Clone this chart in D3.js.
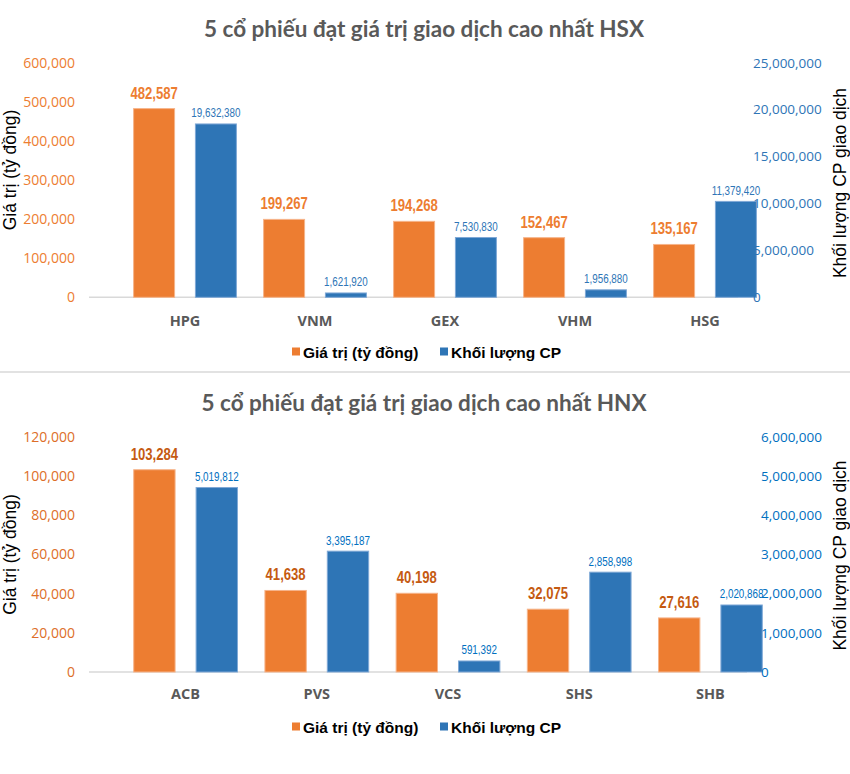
<!DOCTYPE html>
<html>
<head>
<meta charset="utf-8">
<script src="https://cdn.jsdelivr.net/npm/d3@7"></script>
<style>
  html, body { margin: 0; padding: 0; background: #fff; }
  svg { display: block; }
</style>
</head>
<body>
<svg id="chart" width="850" height="774"></svg>
<script>
// ---------- DATA ----------
const seriesNames = ["Giá trị (tỷ đồng)", "Khối lượng CP"];

const hsxTitle = "5 cổ phiếu đạt giá trị giao dịch cao nhất HSX";
const hsxCategories = ["HPG", "VNM", "GEX", "VHM", "HSG"];
const hsxValue = [482587, 199267, 194268, 152467, 135167];
const hsxVolume = [19632380, 1621920, 7530830, 1956880, 11379420];
const hsxValueTicks = [0, 100000, 200000, 300000, 400000, 500000, 600000];
const hsxVolumeTicks = [0, 5000000, 10000000, 15000000, 20000000, 25000000];

const hnxTitle = "5 cổ phiếu đạt giá trị giao dịch cao nhất HNX";
const hnxCategories = ["ACB", "PVS", "VCS", "SHS", "SHB"];
const hnxValue = [103284, 41638, 40198, 32075, 27616];
const hnxVolume = [5019812, 3395187, 591392, 2858998, 2020868];
const hnxValueTicks = [0, 20000, 40000, 60000, 80000, 100000, 120000];
const hnxVolumeTicks = [0, 1000000, 2000000, 3000000, 4000000, 5000000, 6000000];

// In the picture the volume bars sit lower than their printed labels,
// by a roughly constant amount on the secondary axis.
const hsxVolumeBarOffset = 1160000;
const hnxVolumeBarOffset = 310000;

const leftAxisTitle = "Giá trị (tỷ đồng)";
const rightAxisTitle = "Khối lượng CP giao dịch";

// ---------- DRAW ----------
const svg = d3.select("#chart");
const fmt = d3.format(",");
const NARROW = 0.82;

function drawPanel(cfg) {
  const g = svg.append("g");
  const y = d3.scaleLinear().domain([0, d3.max(cfg.valueTicks)]).range([cfg.base, cfg.top]);
  const y2 = d3.scaleLinear().domain([0, d3.max(cfg.volumeTicks)]).range([cfg.base, cfg.top]);
  const y2bar = d3.scaleLinear()
    .domain([cfg.volOffset, d3.max(cfg.volumeTicks) + cfg.volOffset])
    .range([cfg.base, cfg.top]);
  const x0 = d3.scaleBand().domain(cfg.categories).range(cfg.xRange);
  const x1 = d3.scaleBand().domain(["value", "volume"]).range([0, x0.bandwidth()])
    .paddingInner(0.337).paddingOuter(0.22);

  // title
  g.append("text")
    .attr("x", cfg.titleX).attr("y", cfg.titleY)
    .attr("text-anchor", "middle")
    .attr("font-family", "Lato, 'Open Sans', sans-serif")
    .attr("font-weight", "bold")
    .attr("font-size", 22.5)
    .attr("fill", "#595959")
    .text(cfg.title);

  // baseline
  g.append("line")
    .attr("x1", cfg.axisLine[0]).attr("x2", cfg.axisLine[1])
    .attr("y1", y(0)).attr("y2", y(0))
    .attr("stroke", "#d9d9d9").attr("stroke-width", 1.5);

  const rows = cfg.categories.map((c, i) => ({ c, value: cfg.values[i], volume: cfg.volumes[i] }));
  const groups = g.selectAll("g.cat").data(rows).join("g")
    .attr("class", "cat")
    .attr("transform", d => `translate(${x0(d.c)},0)`);

  // value bars
  groups.append("rect")
    .attr("x", x1("value")).attr("width", x1.bandwidth())
    .attr("y", d => y(d.value)).attr("height", d => y(0) - y(d.value))
    .attr("fill", "#ED7D31").attr("stroke", "#F6B48A").attr("stroke-width", 1);
  // volume bars
  groups.append("rect")
    .attr("x", x1("volume")).attr("width", x1.bandwidth())
    .attr("y", d => y2bar(d.volume)).attr("height", d => y(0) - y2bar(d.volume))
    .attr("fill", "#2E75B6").attr("stroke", "#7FA8D6").attr("stroke-width", 1);

  // labels (narrow: Arial-like scaled horizontally)
  groups.append("text")
    .attr("transform", d => `translate(${x1("value") + x1.bandwidth() / 2},${y(d.value) - 10}) scale(${NARROW},1)`)
    .attr("text-anchor", "middle")
    .attr("font-family", "'Liberation Sans', Arial, sans-serif")
    .attr("font-weight", "bold")
    .attr("font-size", 16)
    .attr("fill", cfg.valueLabelColor)
    .text(d => fmt(d.value));
  groups.append("text")
    .attr("transform", d => `translate(${x1("volume") + x1.bandwidth() / 2},${y2bar(d.volume) - 6.5}) scale(${NARROW},1)`)
    .attr("text-anchor", "middle")
    .attr("font-family", "'Liberation Sans', Arial, sans-serif")
    .attr("font-size", 12)
    .attr("fill", cfg.volumeLabelColor)
    .text(d => fmt(d.volume));

  // category labels
  groups.append("text")
    .attr("x", x0.bandwidth() / 2)
    .attr("y", cfg.catY)
    .attr("text-anchor", "middle")
    .attr("font-family", "'Open Sans', sans-serif")
    .attr("font-weight", "bold")
    .attr("font-size", 14.5)
    .attr("fill", "#595959")
    .text(d => d.c);

  // left axis
  const leftAxis = d3.axisLeft(y).tickValues(cfg.valueTicks).tickFormat(fmt).tickSize(0).tickPadding(0);
  const la = g.append("g").attr("transform", `translate(${cfg.leftTickX},0)`).call(leftAxis);
  la.select(".domain").remove();
  la.attr("font-family", null).attr("font-size", null);
  la.selectAll("text")
    .attr("font-family", "'Open Sans', sans-serif")
    .attr("font-size", 14)
    .attr("fill", cfg.leftTickColor);

  // right axis
  const rightAxis = d3.axisRight(y2).tickValues(cfg.volumeTicks).tickFormat(fmt).tickSize(0).tickPadding(0);
  const ra = g.append("g").attr("transform", `translate(${cfg.rightTickX},0)`).call(rightAxis);
  ra.select(".domain").remove();
  ra.attr("font-family", null).attr("font-size", null);
  ra.selectAll("text")
    .attr("font-family", "'Open Sans', sans-serif")
    .attr("font-size", 13.5)
    .attr("fill", cfg.rightTickColor);

  // axis titles
  g.append("text")
    .attr("transform", `translate(${cfg.leftTitleX},${(cfg.base + cfg.top) / 2 + cfg.leftTitleDy}) rotate(-90)`)
    .attr("text-anchor", "middle")
    .attr("font-family", "'Liberation Sans', Arial, sans-serif")
    .attr("font-size", 17.5)
    .attr("fill", "#000")
    .text(leftAxisTitle);
  g.append("text")
    .attr("transform", `translate(${cfg.rightTitleX},${(cfg.base + cfg.top) / 2 + cfg.rightTitleDy}) rotate(-90)`)
    .attr("text-anchor", "middle")
    .attr("font-family", "'Liberation Sans', Arial, sans-serif")
    .attr("font-size", 17.5)
    .attr("fill", "#000")
    .text(rightAxisTitle);

  // legend
  const lg = g.append("g").attr("transform", `translate(0,${cfg.legendY})`);
  const legendItems = [
    { name: seriesNames[0], color: "#ED7D31", x: 292 },
    { name: seriesNames[1], color: "#2E75B6", x: 440 }
  ];
  legendItems.forEach(it => {
    lg.append("rect").attr("x", it.x).attr("y", -4.5).attr("width", 8).attr("height", 8).attr("fill", it.color);
    lg.append("text").attr("x", it.x + 11).attr("y", 5.5)
      .attr("font-family", "'Liberation Sans', Arial, sans-serif")
      .attr("font-weight", "bold")
      .attr("font-size", 15.5)
      .attr("fill", "#000")
      .text(it.name);
  });
}

drawPanel({
  title: hsxTitle, titleX: 424, titleY: 37,
  categories: hsxCategories, values: hsxValue, volumes: hsxVolume,
  valueTicks: hsxValueTicks, volumeTicks: hsxVolumeTicks,
  volOffset: hsxVolumeBarOffset,
  top: 62.7, base: 297.3, xRange: [120, 770], axisLine: [89, 738],
  leftTickX: 75, rightTickX: 753,
  leftTickColor: "#ED7D31", rightTickColor: "#2E75B6",
  valueLabelColor: "#ED7D31", volumeLabelColor: "#2E75B6",
  leftTitleX: 16, leftTitleDy: -10, rightTitleX: 846, rightTitleDy: 3,
  catY: 326, legendY: 352
});

drawPanel({
  title: hnxTitle, titleX: 424, titleY: 411,
  categories: hnxCategories, values: hnxValue, volumes: hnxVolume,
  valueTicks: hnxValueTicks, volumeTicks: hnxVolumeTicks,
  volOffset: hnxVolumeBarOffset,
  top: 437, base: 672, xRange: [120, 776], axisLine: [89, 747],
  leftTickX: 75, rightTickX: 761,
  leftTickColor: "#DD6E28", rightTickColor: "#0070C0",
  valueLabelColor: "#C55A11", volumeLabelColor: "#0070C0",
  leftTitleX: 16, leftTitleDy: 0, rightTitleX: 846, rightTitleDy: 1,
  catY: 699, legendY: 727
});

// separator between the two charts
svg.append("line").attr("x1", 0).attr("x2", 850).attr("y1", 372).attr("y2", 372)
  .attr("stroke", "#d9d9d9").attr("stroke-width", 1.5);
</script>
</body>
</html>
